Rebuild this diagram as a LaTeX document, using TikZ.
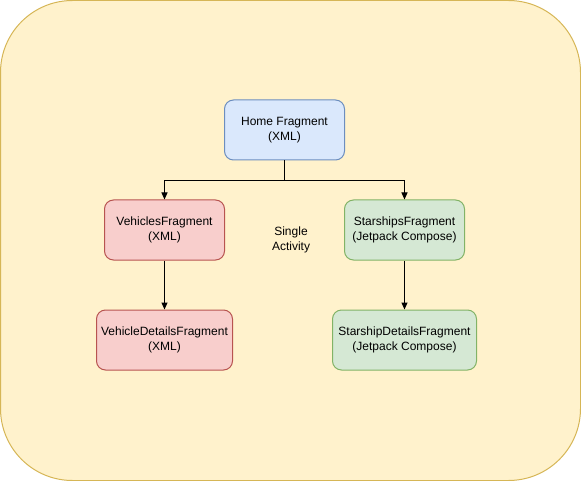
\documentclass[tikz,border=0pt]{standalone}
\usepackage{fontspec}
\setmainfont{Liberation Sans}
\usepackage{tikz}
\usetikzlibrary{calc, arrows.meta}
\definecolor{bgfill}{HTML}{FFF2CC}
\definecolor{bgdraw}{HTML}{D6B656}
\definecolor{bluefill}{HTML}{DAE8FC}
\definecolor{bluedraw}{HTML}{6C8EBF}
\definecolor{redfill}{HTML}{F8CECC}
\definecolor{reddraw}{HTML}{B85450}
\definecolor{greenfill}{HTML}{D5E8D4}
\definecolor{greendraw}{HTML}{82B366}

\begin{document}
\begin{tikzpicture}[x=1pt, y=-1pt]
\tikzset{every node/.style={font=\fontsize{12}{15}\selectfont, align=center, inner sep=0pt}, frag/.style={rectangle, rounded corners=9pt, line width=1pt, minimum height=60pt}, flow/.style={black, line width=1pt, -{Triangle[length=7pt, width=6pt]}}}

% Normalize bounding box
\useasboundingbox (0,0) rectangle (581,481);
\draw [bgdraw, line width=1pt, fill=bgfill, rounded corners=72pt] (0.5,0.5) rectangle (580.5,480.5);

\node [frag, draw=bluedraw, fill=bluefill, minimum width=120pt] (H) at (284.5,130) {Home Fragment\\(XML)};
\node [frag, draw=reddraw, fill=redfill, minimum width=120pt] (V) at (164.5,230) {VehiclesFragment\\(XML)};
\node [frag, draw=greendraw, fill=greenfill, minimum width=120pt] (S) at (404.5,230) {StarshipsFragment\\(Jetpack Compose)};
\node [frag, draw=reddraw, fill=redfill, minimum width=136pt] (VD) at (164.5,340) {VehicleDetailsFragment\\(XML)};
\node [frag, draw=greendraw, fill=greenfill, minimum width=144pt] (SD) at (404.5,340) {StarshipDetailsFragment\\(Jetpack Compose)};
\node (A) at (291,240) {Single\\Activity};

\draw [flow] (H.south) -- ($(H.south) + (0,20)$) -| (V.north);
\draw [flow] (H.south) -- ($(H.south) + (0,20)$) -| (S.north);
\draw [flow] (V) -- (VD);
\draw [flow] (S) -- (SD);

\end{tikzpicture}
\end{document}
